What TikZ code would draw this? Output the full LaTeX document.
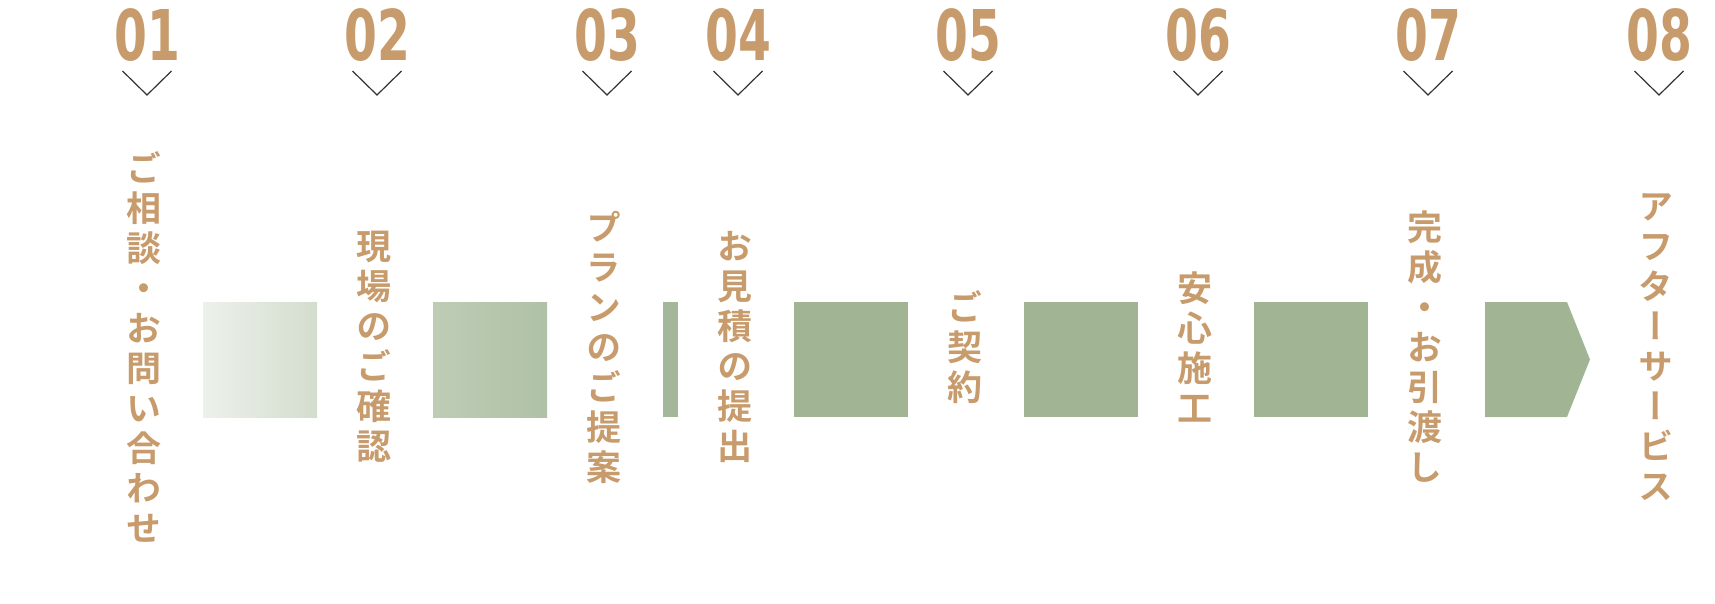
\documentclass[tikz,border=0pt]{standalone}
\usepackage{fontspec}
\newfontfamily\cjk{Noto Sans CJK JP Bold}[RawFeature=+vert]
\newfontfamily\numfont{DejaVu Sans Condensed Bold}[FakeStretch=0.75]
\definecolor{labelBrown}{RGB}{199,155,107}
\definecolor{sage}{RGB}{161,181,149}
\definecolor{chevGray}{RGB}{51,51,51}
\tikzset{
  num/.style={font=\numfont\fontsize{52.5}{52.5}\selectfont, text=labelBrown, inner sep=0pt},
  stage/.style={font=\cjk\fontsize{26.25}{30}\selectfont, text=labelBrown, align=center, inner sep=0pt},
  chev/.style={draw=chevGray, line width=0.9pt},
}
\begin{document}
\begin{tikzpicture}[x=0.75pt,y=0.75pt,yscale=-1,xscale=1]
\useasboundingbox (0,0) rectangle (1715,603);

%Shape: Rectangle, first step
\draw [draw=none, left color={rgb, 255:red, 237; green, 241; blue, 235}, right color={rgb, 255:red, 211; green, 221; blue, 206}] (203,302) rectangle (317,417);
%Shape: Rectangle
\draw [draw=none, left color={rgb, 255:red, 190; green, 204; blue, 182}, right color={rgb, 255:red, 175; green, 193; blue, 166}] (433,302) rectangle (547,417);
%Shape: Rectangle, thin one
\fill [color={rgb, 255:red, 165; green, 183; blue, 155}] (663,302) rectangle (678,417);
%Shape: Rectangle
\fill [sage] (794,302) rectangle (908,417);
%Shape: Rectangle
\fill [sage] (1024,302) rectangle (1138,417);
%Shape: Rectangle
\fill [sage] (1254,302) rectangle (1368,417);
%Shape: Arrow head
\fill [sage] (1485,302) -- (1567,302) -- (1590,359.5) -- (1567,417) -- (1485,417) -- cycle;

% Number Nodes
\node (n01) at (147,35.5) [num] {01};
\node (n02) at (377,35.5) [num] {02};
\node (n03) at (607,35.5) [num] {03};
\node (n04) at (738,35.5) [num] {04};
\node (n05) at (968,35.5) [num] {05};
\node (n06) at (1198,35.5) [num] {06};
\node (n07) at (1428,35.5) [num] {07};
\node (n08) at (1659,35.5) [num] {08};

%Chevrons under the numbers
\draw [chev] (n01) ++(-24.5,35.5) -- ++(24.5,24) -- ++(24.5,-24);
\draw [chev] (n02) ++(-24.5,35.5) -- ++(24.5,24) -- ++(24.5,-24);
\draw [chev] (n03) ++(-24.5,35.5) -- ++(24.5,24) -- ++(24.5,-24);
\draw [chev] (n04) ++(-24.5,35.5) -- ++(24.5,24) -- ++(24.5,-24);
\draw [chev] (n05) ++(-24.5,35.5) -- ++(24.5,24) -- ++(24.5,-24);
\draw [chev] (n06) ++(-24.5,35.5) -- ++(24.5,24) -- ++(24.5,-24);
\draw [chev] (n07) ++(-24.5,35.5) -- ++(24.5,24) -- ++(24.5,-24);
\draw [chev] (n08) ++(-24.5,35.5) -- ++(24.5,24) -- ++(24.5,-24);

% Text Node
\node (t01) at (144,347) [stage] {ご\\相\\談\\・\\お\\問\\い\\合\\わ\\せ};
% Text Node
\node (t02) at (374,347) [stage] {現\\場\\の\\ご\\確\\認};
% Text Node
\node (t03) at (604,347) [stage] {プ\\ラ\\ン\\の\\ご\\提\\案};
% Text Node
\node (t04) at (735,347) [stage] {お\\見\\積\\の\\提\\出};
% Text Node
\node (t05) at (965,347) [stage] {ご\\契\\約};
% Text Node
\node (t06) at (1195,347) [stage] {安\\心\\施\\工};
% Text Node
\node (t07) at (1425,347) [stage] {完\\成\\・\\お\\引\\渡\\し};
% Text Node
\node (t08) at (1656,347) [stage] {ア\\フ\\タ\\ー\\サ\\ー\\ビ\\ス};

\end{tikzpicture}
\end{document}
